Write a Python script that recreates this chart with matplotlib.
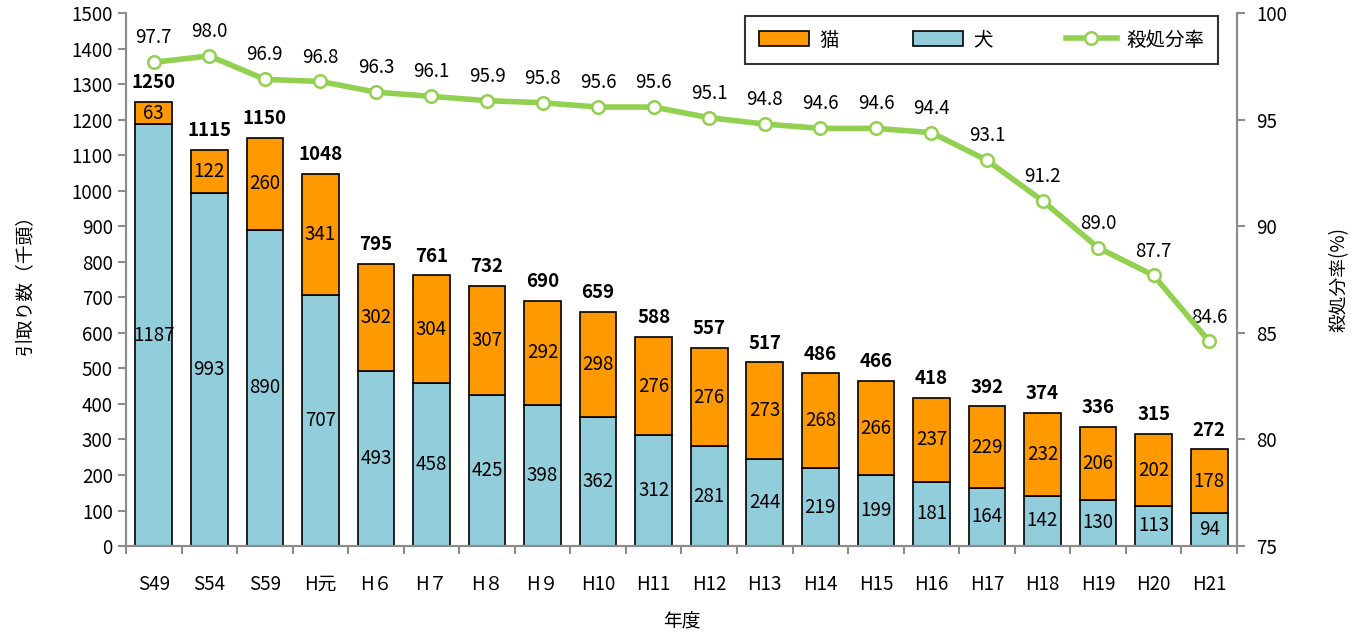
import matplotlib
matplotlib.use("Agg")
import matplotlib.pyplot as plt
import numpy as np

plt.rcParams["font.family"] = ["Noto Sans CJK JP", "DejaVu Sans"]

years = ["S49", "S54", "S59", "H元", "H６", "H７", "H８", "H９", "H10", "H11",
         "H12", "H13", "H14", "H15", "H16", "H17", "H18", "H19", "H20", "H21"]
dogs = [1187, 993, 890, 707, 493, 458, 425, 398, 362, 312,
        281, 244, 219, 199, 181, 164, 142, 130, 113, 94]
cats = [63, 122, 260, 341, 302, 304, 307, 292, 298, 276,
        276, 273, 268, 266, 237, 229, 232, 206, 202, 178]
totals = [1250, 1115, 1150, 1048, 795, 761, 732, 690, 659, 588,
          557, 517, 486, 466, 418, 392, 374, 336, 315, 272]
kill_rate = [97.7, 98.0, 96.9, 96.8, 96.3, 96.1, 95.9, 95.8, 95.6, 95.6,
             95.1, 94.8, 94.6, 94.6, 94.4, 93.1, 91.2, 89.0, 87.7, 84.6]

DOG = "#92CDDC"
CAT = "#FF9900"
LINE = "#92D050"
GRAY = "#8c8c8c"
FS = 13.5

fig = plt.figure(figsize=(13.59, 6.32), dpi=100)
ax = fig.add_axes([0.0927, 0.136, 0.8175, 0.843])
ax2 = ax.twinx()

x = np.arange(len(years))
w = 0.66
b_dog = ax.bar(x, dogs, w, color=DOG, edgecolor="black", linewidth=1.2, label="犬", zorder=2)
b_cat = ax.bar(x, cats, w, bottom=dogs, color=CAT, edgecolor="black", linewidth=1.2, label="猫", zorder=2)

for i in range(len(years)):
    ax.text(x[i], dogs[i] / 2, str(dogs[i]), ha="center", va="center", fontsize=FS, zorder=3)
    ax.text(x[i], dogs[i] + cats[i] / 2, str(cats[i]), ha="center", va="center", fontsize=FS, zorder=3)
    ax.annotate(str(totals[i]), (x[i], totals[i]), xytext=(0, 7), textcoords="offset points",
                ha="center", va="bottom", fontsize=FS, fontweight="bold")

ln, = ax2.plot(x, kill_rate, color=LINE, linewidth=4, marker="o", markersize=9,
               markerfacecolor="white", markeredgecolor=LINE, markeredgewidth=1.8,
               label="殺処分率", zorder=4)
for i in range(len(years)):
    ax2.annotate(f"{kill_rate[i]:.1f}", (x[i], kill_rate[i]), xytext=(0, 10),
                 textcoords="offset points", ha="center", va="bottom", fontsize=FS)

ax.set_xlim(-0.5, len(years) - 0.5)
ax.set_ylim(0, 1500)
ax.set_yticks(np.arange(0, 1501, 100))
ax2.set_ylim(75, 100)
ax2.set_yticks([75, 80, 85, 90, 95, 100])

ax.set_xticks(x)
ax.set_xticklabels(years, fontsize=FS)
ax.set_xticks(np.arange(-0.5, len(years), 1), minor=True)
ax.tick_params(axis="x", which="major", length=0, pad=20)
ax.tick_params(axis="x", which="minor", length=6, color=GRAY, width=1.5)
ax.tick_params(axis="y", labelsize=FS, color=GRAY, width=1.5, length=6)
ax2.tick_params(axis="y", labelsize=FS, color=GRAY, width=1.5, length=6, pad=8)

for a in (ax, ax2):
    a.spines["top"].set_visible(False)
    for s in ("left", "right", "bottom"):
        a.spines[s].set_color(GRAY)
        a.spines[s].set_linewidth(1.5)

ax.set_xlabel("年度", fontsize=FS, labelpad=12)
ax.set_ylabel("引取り数（千頭）", fontsize=FS, labelpad=26)
ax2.set_ylabel("殺処分率(%)", fontsize=FS, labelpad=30)

leg = ax2.legend([b_cat, b_dog, ln], ["猫", "犬", "殺処分率"], loc="upper right",
                 bbox_to_anchor=(0.983, 0.995), ncol=3, fontsize=FS + 0.5, frameon=True,
                 fancybox=False, edgecolor="black", handlelength=2.6, handleheight=0.8,
                 columnspacing=3.8, borderpad=0.7, borderaxespad=0, handletextpad=0.5)
leg.get_frame().set_linewidth(1.5)

fig.savefig("out.png", dpi=100)
